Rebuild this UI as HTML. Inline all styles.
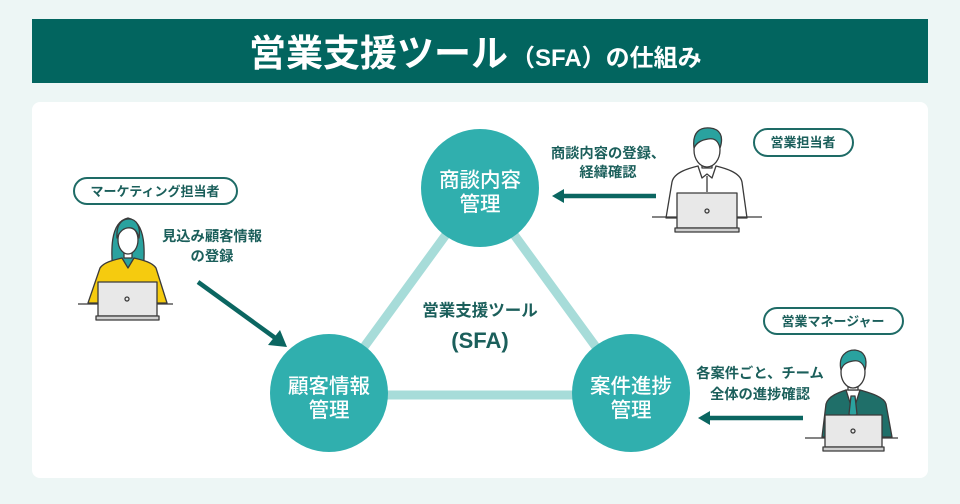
<!DOCTYPE html>
<html><head><meta charset="utf-8">
<style>
html,body{margin:0;padding:0;background:#edf6f5;}
svg{display:block;}
text{font-family:"Liberation Sans","Noto Sans CJK JP",sans-serif;}
</style></head>
<body>
<svg width="960" height="504" viewBox="0 0 960 504" xmlns="http://www.w3.org/2000/svg">
<rect x="0" y="0" width="960" height="504" fill="#edf6f5"/>
<!-- header -->
<rect x="32" y="19" width="896" height="64" fill="#02655f"/>
<text y="66" fill="#fff" font-weight="700"><tspan x="249" font-size="37">営業支援ツール</tspan><tspan x="511" font-size="24">（SFA）の仕組み</tspan></text>
<!-- card -->
<rect x="32" y="102" width="896" height="376" rx="8" fill="#ffffff"/>

<!-- triangle -->
<polygon points="480,188 329,395 631,395" fill="none" stroke="#a7dcd9" stroke-width="9" stroke-linejoin="round"/>
<circle cx="480" cy="188" r="59" fill="#30afae"/>
<circle cx="329" cy="393" r="59" fill="#30afae"/>
<circle cx="631" cy="393" r="59" fill="#30afae"/>
<g fill="#fff" font-size="20.5" font-weight="500" text-anchor="middle">
<text x="480" y="187">商談内容</text><text x="480" y="211">管理</text>
<text x="329" y="393">顧客情報</text><text x="329" y="417">管理</text>
<text x="631" y="393">案件進捗</text><text x="631" y="417">管理</text>
</g>
<g fill="#1b5f5b" font-weight="700" text-anchor="middle">
<text x="480" y="316" font-size="16.5">営業支援ツール</text>
<text x="480" y="348" font-size="22">(SFA)</text>
</g>

<!-- pills -->
<g fill="#fff" stroke="#1e6b66" stroke-width="2">
<rect x="74" y="178" width="163" height="26" rx="13"/>
<rect x="754" y="129" width="99" height="27" rx="13.5"/>
<rect x="764" y="308" width="139" height="26" rx="13"/>
</g>
<g fill="#1b5f5b" font-weight="700" font-size="13" text-anchor="middle">
<text x="155" y="196">マーケティング担当者</text>
<text x="803" y="147">営業担当者</text>
<text x="833" y="326">営業マネージャー</text>
</g>

<!-- labels -->
<g fill="#1b5f5b" font-weight="700" font-size="14.3" text-anchor="middle">
<text x="212" y="241">見込み顧客情報</text>
<text x="212" y="261">の登録</text>
<text x="608" y="158">商談内容の登録、</text>
<text x="608" y="177">経緯確認</text>
<text x="760" y="378">各案件ごと、チーム</text>
<text x="760" y="399">全体の進捗確認</text>
</g>

<!-- arrows -->
<g stroke="#0b6661" stroke-width="4.5" fill="#0b6661">
<line x1="198" y1="282" x2="278" y2="340"/>
<line x1="656" y1="196" x2="562" y2="196"/>
<line x1="803" y1="418" x2="708" y2="418"/>
</g>
<g fill="#0b6661">
<polygon points="287,347 268,345 280,330"/>
<polygon points="552,196 564,189 564,203"/>
<polygon points="698,418 710,411 710,425"/>
</g>

<!-- woman -->
<g stroke="#3a3a3a" stroke-width="1.3" stroke-linejoin="round">
<path d="M114,282 C110,250 110,222 128,218 C146,222 146,250 142,282 Z" fill="#2aa29f"/>
<path d="M100,268 C104,262 114,260 122,258 L128,268 L134,258 C142,260 152,262 156,268 L167,303 L88,303 Z" fill="#f5cb0f"/>
<rect x="124" y="248" width="8" height="10" fill="#fff"/>
<ellipse cx="128" cy="240" rx="10" ry="14" fill="#fff"/>
<path d="M117,238 C116,224 122,219 129,219 C136,219 141,226 139,238 C137,230 133,227 127,228 C122,229 119,233 117,238 Z" fill="#2aa29f"/>
<line x1="78" y1="304" x2="173" y2="304"/>
<rect x="98" y="282" width="59" height="34" fill="#e8e8e8"/>
<rect x="96" y="316" width="63" height="4" fill="#d0d0d0"/>
<circle cx="127" cy="299" r="2" fill="none"/>
</g>

<!-- man top -->
<g stroke="#3a3a3a" stroke-width="1.3" stroke-linejoin="round">
<path d="M666,218 L672,182 C674,172 690,168 698,166 L707,174 L716,166 C724,168 740,172 742,182 L747,218 Z" fill="#fff"/>
<path d="M698,166 L702,178 L707,174 L712,178 L716,166" fill="#fff"/>
<line x1="707" y1="176" x2="707" y2="192"/>
<rect x="702" y="156" width="10" height="12" fill="#fff"/>
<ellipse cx="707" cy="150" rx="13" ry="17" fill="#fff"/>
<path d="M694,148 C692,132 700,127 710,128 C720,129 724,136 720,148 C718,140 714,138 708,139 C702,140 697,142 694,148 Z" fill="#2aa29f"/>
<line x1="652" y1="217" x2="762" y2="217"/>
<rect x="677" y="193" width="60" height="35" fill="#e8e8e8"/>
<rect x="675" y="228" width="64" height="4" fill="#d0d0d0"/>
<circle cx="707" cy="211" r="2" fill="none"/>
</g>

<!-- manager -->
<g stroke="#3a3a3a" stroke-width="1.3" stroke-linejoin="round">
<path d="M822,437 L826,404 C828,396 840,392 846,390 L853,398 L860,390 C866,392 884,396 886,404 L892,437 Z" fill="#1f6f69"/>
<path d="M846,390 L853,412 L860,390 Z" fill="#fff"/>
<path d="M851,396 L855,396 L857,414 L853,418 L849,414 Z" fill="#2aa29f"/>
<rect x="848" y="378" width="10" height="12" fill="#fff"/>
<ellipse cx="853" cy="372" rx="12" ry="16" fill="#fff"/>
<path d="M841,370 C838,356 846,350 855,350 C864,351 868,358 865,370 C863,362 858,360 853,361 C847,362 843,364 841,370 Z" fill="#2aa29f"/>
<line x1="805" y1="438" x2="898" y2="438"/>
<rect x="825" y="415" width="57" height="32" fill="#e8e8e8"/>
<rect x="823" y="447" width="61" height="4" fill="#d0d0d0"/>
<circle cx="853" cy="431" r="2" fill="none"/>
</g>
</svg>
</body></html>
